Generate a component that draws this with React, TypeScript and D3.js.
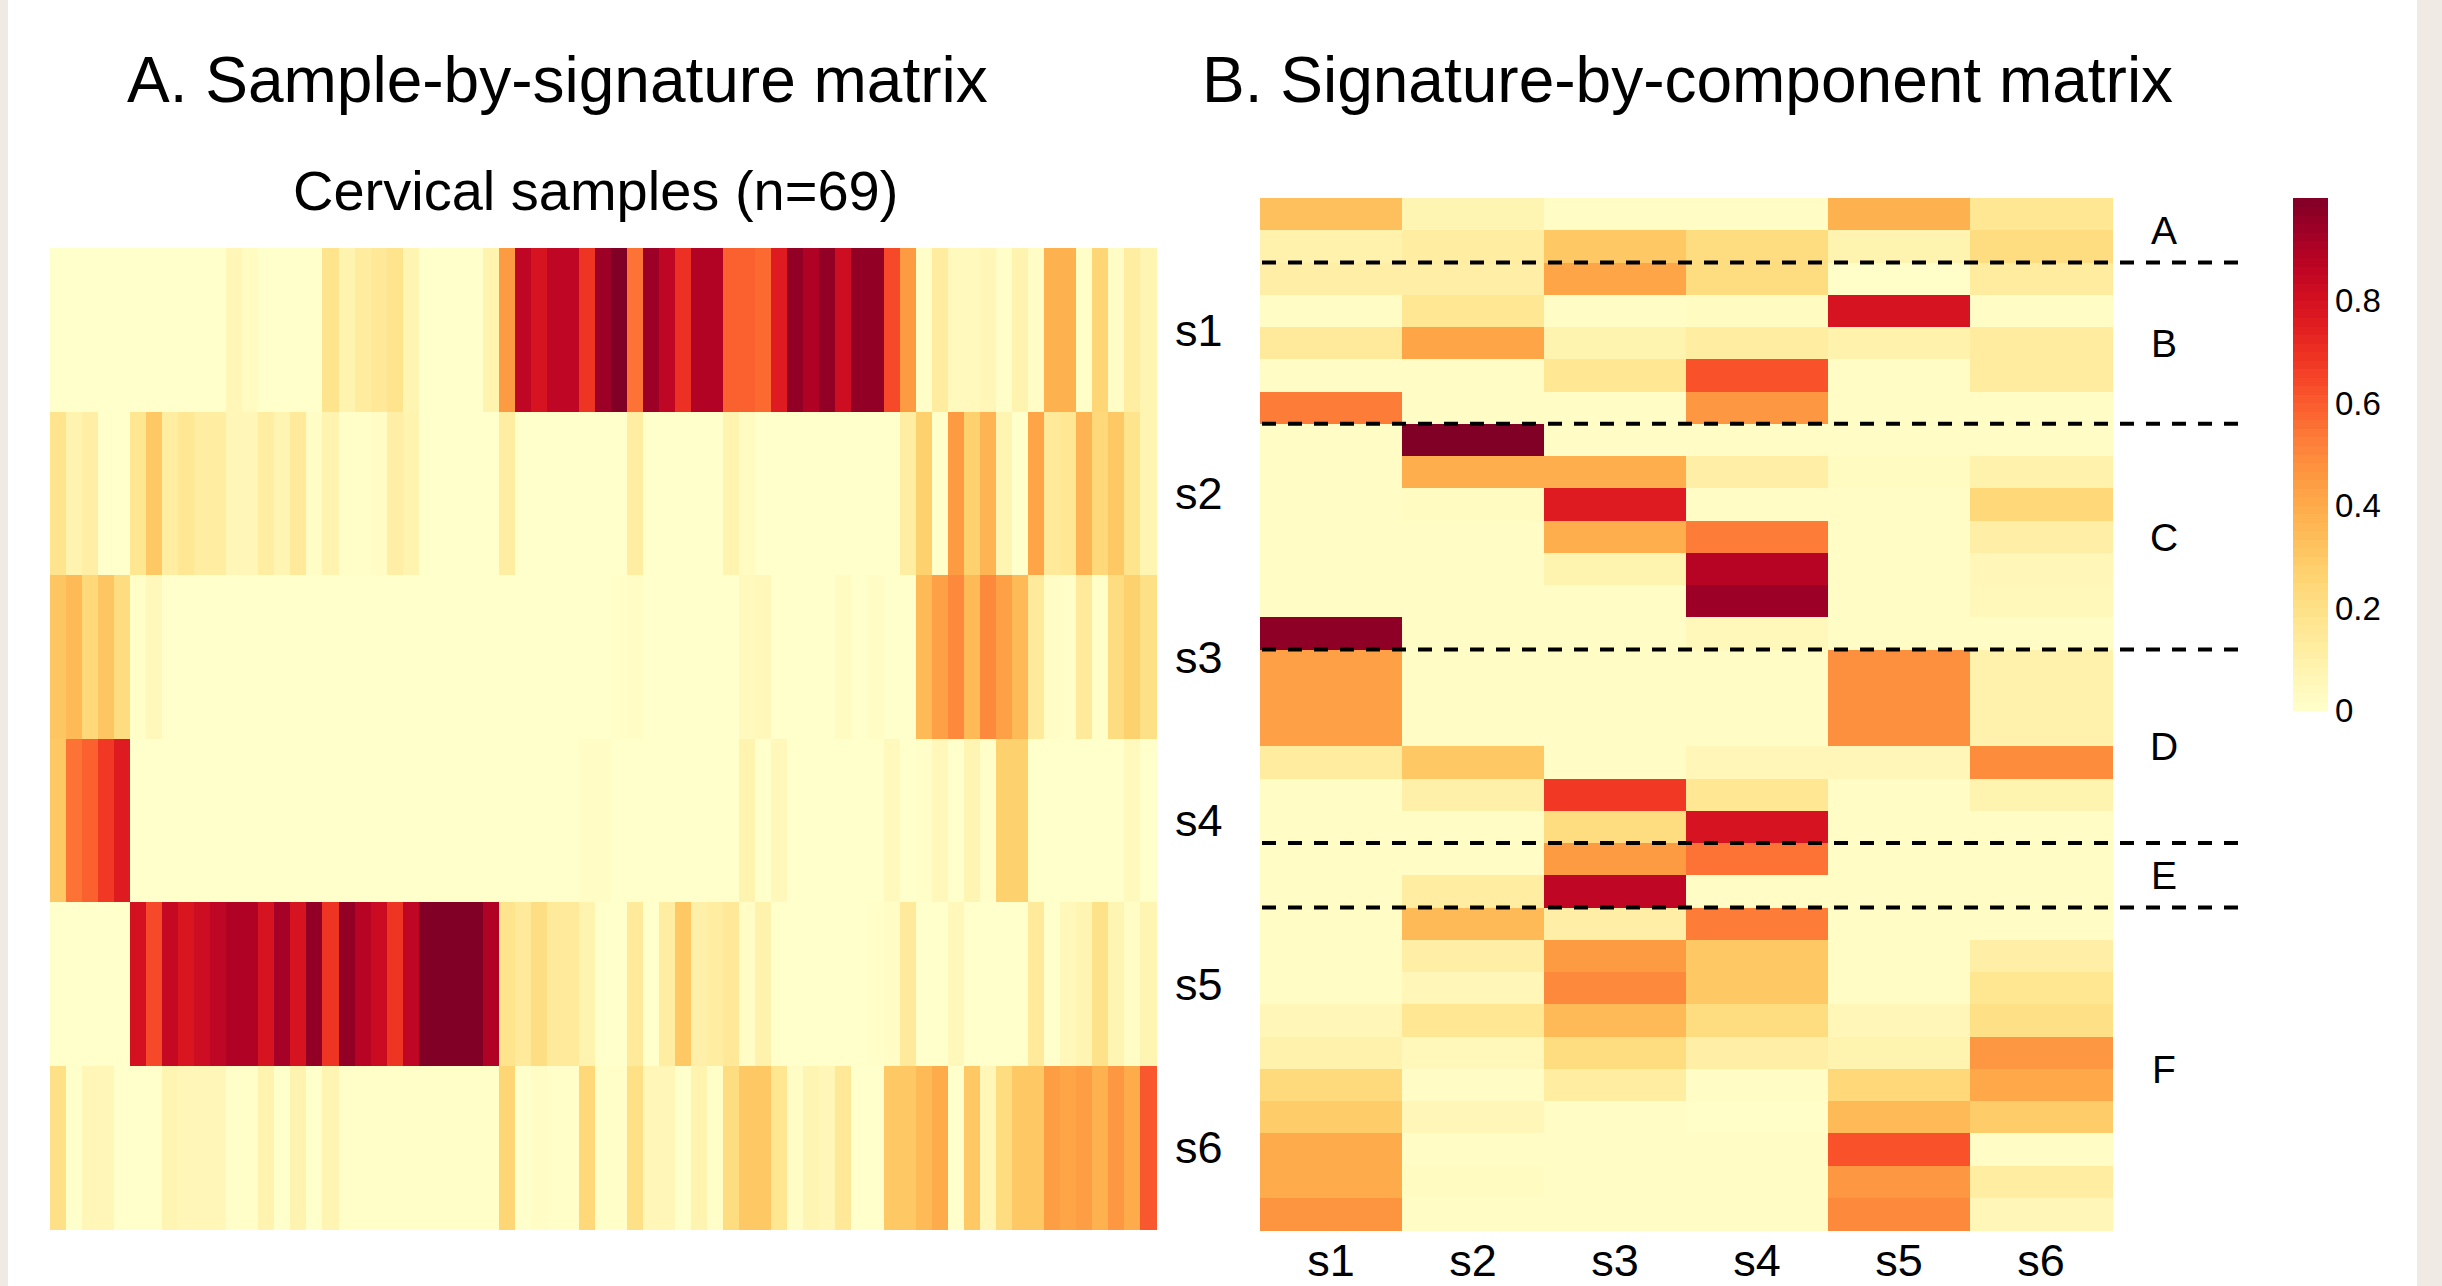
import React, { useEffect, useRef } from 'react'
import * as d3 from 'd3'

const W = 2442
const H = 1286

const signatures = ['s1', 's2', 's3', 's4', 's5', 's6']

// A: weight of each signature in the 69 cervical samples (one value per sample)
const aS1 = [0,0,0,0,0,0,0,0,0,0,0,
  0.06,0.03,0,0,0,0,
  0.18,0.08,0.13,0.15,0.18,0.07,
  0,0,0,0,0.08,
  0.45,0.86,0.79,0.86,0.86,0.69,0.94,1.0,
  0.55,0.94,0.86,0.7,0.89,0.89,0.59,0.59,0.57,0.76,
  0.96,0.9,0.96,0.82,0.96,0.96,0.64,0.45,
  0.01,0.13,0.04,0.04,0.06,0.01,0.08,0.02,0.38,0.38,0.01,0.25,0.02,0.12,0.07]
const aS2 = [0.18,0.08,0.11,0,0,0.17,0.3,0.12,0.16,0.12,0.12,0.06,0.06,0.12,0.07,0.14,0.02,0.08,0.01,0.01,0.02,0.11,0.08,
  0,0,0,0,0,
  0.12,
  0,0,0,0,0,0,0,
  0.12,
  0,0,0,0,0,
  0.08,0.03,
  0,0,0,0,0,0,0,0,0,
  0.12,0.27,0.01,0.45,0.27,0.37,0.07,0,0.42,0.14,0.16,0.37,0.24,0.3,0.18,0.07]
const aS3 = [0.31,0.35,0.24,0.31,0.22,0.01,0.05,
  0,0,0,0,0,0,0,0,0,0,
  0,0,0,0,0,0,0,0,0,0,
  0,0,0,0,0,0,0,0,0.01,
  0.02,0,0,0,0,0,0,0.04,0.05,
  0,0,0,0,0.03,0,0.02,0,0,
  0.35,0.43,0.5,0.35,0.5,0.43,0.35,0.14,0.02,0.01,0.14,0.01,0.22,0.27,0.2]
const aS4 = [0.3,0.55,0.59,0.68,0.76,
  0,0,0,0,0,0,0,0,0,0,
  0,0,0,0,0,0,0,0,0,0,
  0,0,0,0,0,0,0,0,
  0.02,0.02,
  0,0,0,0,0,0,0,0,
  0.08,0,0.05,0,0,0,0,0,0,0.04,0,
  0.01,0.05,0,0.07,0.01,0.27,0.27,
  0,0,0,0,0,0,0.04,0]
const aS5 = [0,0,0,0,0,
  0.8,0.64,0.84,0.78,0.82,0.86,0.9,0.9,0.79,0.92,0.79,0.96,0.69,0.96,0.88,0.83,0.69,0.86,1,1,1,1,0.9,
  0.18,0.14,0.21,0.14,0.14,0.08,0,0,
  0.14,0,0.12,0.3,0.1,0.12,0.15,0.02,0.09,
  0,0,0,0,0,0,0.01,0.02,0.14,
  0,0,0.05,0,0,0,0,0.14,0,0.05,0.07,0.19,0.07,0.02,0.07]
const aS6 = [0.2,0,0.06,0.06,0,0,0,0.07,0.06,0.06,0.06,0.01,0.01,0.08,0,0.08,0,0.07,
  0.01,0.01,0.01,0.01,0.01,0.01,0.01,0.01,0.01,0.01,
  0.25,0,0.02,0.01,0.01,0.24,0.01,0.01,
  0.2,0.06,0.06,0,0.08,0.01,0.22,0.3,0.3,0.17,
  0.02,0.07,0.06,0.15,0,0,0.3,0.3,
  0.35,0.4,0,0.3,0.06,0.22,0.3,0.3,0.44,0.42,0.44,0.38,0.46,0.4,0.61]

// B: one array per signature, 32 components from top to bottom
const bS1 = [0.33,0.09,0.11,0.02,0.14,0.02,0.53,0.02,0.02,0.02,0.02,0.02,0.02,0.97,0.43,0.43,0.43,0.13,0.02,0.02,0.02,0.02,0.02,0.02,0.02,0.06,0.09,0.23,0.29,0.4,0.4,0.47]
const bS2 = [0.07,0.12,0.11,0.16,0.42,0.02,0.02,1.0,0.39,0.03,0.02,0.02,0.02,0.02,0.02,0.02,0.02,0.3,0.1,0.02,0.02,0.12,0.35,0.11,0.06,0.16,0.05,0.02,0.06,0.02,0.03,0.02]
const bS3 = [0.02,0.3,0.42,0.02,0.08,0.16,0.02,0.02,0.39,0.76,0.39,0.08,0.02,0.02,0.02,0.02,0.02,0.02,0.68,0.22,0.45,0.86,0.11,0.45,0.5,0.35,0.22,0.12,0.02,0.02,0.02,0.02]
const bS4 = [0.02,0.22,0.22,0.03,0.12,0.62,0.46,0.02,0.11,0.02,0.53,0.88,0.94,0.05,0.02,0.02,0.02,0.06,0.16,0.79,0.55,0.02,0.53,0.3,0.3,0.22,0.11,0.02,0.01,0.02,0.02,0.02]
const bS5 = [0.38,0.08,0.01,0.79,0.09,0.02,0.02,0.02,0.03,0.02,0.02,0.02,0.02,0.02,0.48,0.48,0.48,0.06,0.02,0.02,0.02,0.02,0.02,0.02,0.02,0.06,0.08,0.24,0.35,0.62,0.46,0.5]
const bS6 = [0.16,0.22,0.13,0.02,0.13,0.13,0.02,0.02,0.09,0.24,0.11,0.06,0.05,0.02,0.09,0.09,0.09,0.49,0.08,0.02,0.02,0.02,0.02,0.11,0.17,0.2,0.46,0.41,0.29,0.02,0.12,0.06]

const groups = ['A', 'B', 'C', 'D', 'E', 'F']
const groupSizes = [2, 5, 7, 6, 2, 10]
const legendTicks = [0, 0.2, 0.4, 0.6, 0.8]

const font = '"Liberation Sans", Arial, Helvetica, sans-serif'

export default function App() {
  const ref = useRef<SVGSVGElement>(null)

  useEffect(() => {
    const svg = d3.select(ref.current)
    svg.selectAll('*').remove()
    const color = d3.scaleSequential(d3.interpolateYlOrRd).domain([0, 1])

    // page frame
    svg.append('rect').attr('width', W).attr('height', H).attr('fill', '#efebe4')
    svg.append('rect').attr('x', 8).attr('width', 2409).attr('height', H).attr('fill', '#fff')

    // ---- panel A
    const aRows = [aS1, aS2, aS3, aS4, aS5, aS6]
    const xA = d3.scaleBand<number>().domain(d3.range(aS1.length)).range([50, 1156])
    const yA = d3.scaleBand<string>().domain(signatures).range([248, 1229])
    const cellsA = aRows.flatMap((row, r) => row.map((v, c) => ({ sig: signatures[r], c, v })))
    svg.append('g').selectAll('rect')
      .data(cellsA)
      .enter()
      .append('rect')
      .attr('x', d => xA(d.c)!)
      .attr('y', d => yA(d.sig)!)
      .attr('width', xA.bandwidth() + 0.5)
      .attr('height', yA.bandwidth() + 0.5)
      .attr('fill', d => color(d.v))
      .attr('shape-rendering', 'crispEdges')

    svg.append('g').selectAll('text')
      .data(signatures)
      .enter()
      .append('text')
      .attr('x', 1175)
      .attr('y', d => yA(d)! + yA.bandwidth() / 2 + 16)
      .attr('font-size', 45)
      .attr('font-family', font)
      .text(d => d)

    svg.append('text').attr('x', 127).attr('y', 102).attr('font-size', 64)
      .attr('font-family', font).text('A. Sample-by-signature matrix')
    svg.append('text').attr('x', 293).attr('y', 210).attr('font-size', 56)
      .attr('font-family', font).text('Cervical samples (n=69)')

    // ---- panel B
    const bCols = [bS1, bS2, bS3, bS4, bS5, bS6]
    const xB = d3.scaleBand<string>().domain(signatures).range([1260, 2112])
    const yB = d3.scaleBand<number>().domain(d3.range(bS1.length)).range([198, 1230])
    const cellsB = bCols.flatMap((col, k) => col.map((v, r) => ({ sig: signatures[k], r, v })))
    svg.append('g').selectAll('rect')
      .data(cellsB)
      .enter()
      .append('rect')
      .attr('x', d => xB(d.sig)!)
      .attr('y', d => yB(d.r)!)
      .attr('width', xB.bandwidth() + 0.5)
      .attr('height', yB.bandwidth() + 0.5)
      .attr('fill', d => color(d.v))
      .attr('shape-rendering', 'crispEdges')

    svg.append('g').selectAll('text')
      .data(signatures)
      .enter()
      .append('text')
      .attr('x', d => xB(d)! + xB.bandwidth() / 2)
      .attr('y', 1276)
      .attr('text-anchor', 'middle')
      .attr('font-size', 45)
      .attr('font-family', font)
      .text(d => d)

    const ends = d3.cumsum(groupSizes)
    const starts = ends.map((e, i) => e - groupSizes[i])
    const bandY = (i: number) => 198 + i * yB.step()

    svg.append('g').selectAll('line')
      .data(Array.from(ends).slice(0, -1))
      .enter()
      .append('line')
      .attr('x1', 1262).attr('x2', 2242)
      .attr('y1', d => bandY(d)).attr('y2', d => bandY(d))
      .attr('stroke', '#000')
      .attr('stroke-width', 4)
      .attr('stroke-dasharray', '14 12')

    svg.append('g').selectAll('text')
      .data(groups)
      .enter()
      .append('text')
      .attr('x', 2164)
      .attr('y', (d, i) => (bandY(starts[i]) + bandY(ends[i])) / 2 + 14)
      .attr('text-anchor', 'middle')
      .attr('font-size', 39)
      .attr('font-family', font)
      .text(d => d)

    svg.append('text').attr('x', 1202).attr('y', 102).attr('font-size', 64)
      .attr('font-family', font).text('B. Signature-by-component matrix')

    // ---- colour legend
    const yL = d3.scaleLinear().domain([0, 1]).range([710, 198])
    const steps = d3.range(0, 1, 1 / 60)
    svg.append('g').selectAll('rect')
      .data(steps)
      .enter()
      .append('rect')
      .attr('x', 2293)
      .attr('y', d => yL(d + 1 / 60))
      .attr('width', 35)
      .attr('height', yL(0) - yL(1 / 60) + 0.5)
      .attr('fill', d => color(d + 0.5 / 60))
      .attr('shape-rendering', 'crispEdges')

    svg.append('g').selectAll('text')
      .data(legendTicks)
      .enter()
      .append('text')
      .attr('x', 2335)
      .attr('y', d => yL(d) + 12)
      .attr('font-size', 33)
      .attr('font-family', font)
      .text(d => (d === 0 ? '0' : d3.format('.1f')(d)))
  }, [])

  return (
    <svg ref={ref} width={W} height={H}
      style={{ position: 'absolute', left: 0, top: 0, display: 'block' }} />
  )
}
